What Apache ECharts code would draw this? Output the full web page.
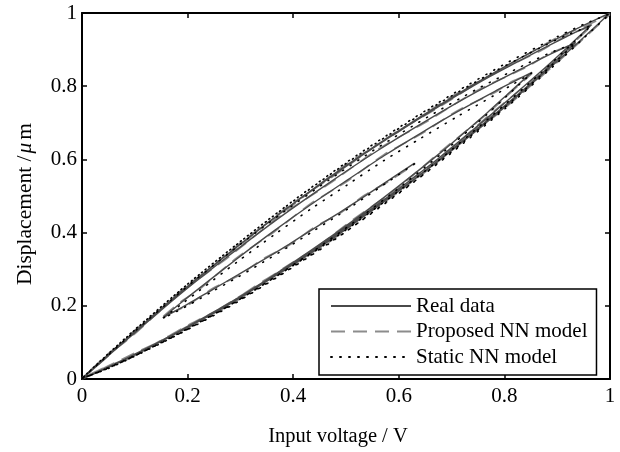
<!DOCTYPE html>
<html>
<head>
<meta charset="utf-8">
<script src="https://cdn.jsdelivr.net/npm/echarts@6/dist/echarts.min.js"></script>
<style>
  html, body { margin: 0; padding: 0; background: #fff; }
  #main { width: 620px; height: 452px; }
</style>
</head>
<body>
<div id="main"></div>
<script>
// ticks
var xTicks = [0, 0.2, 0.4, 0.6, 0.8, 1];
var yTicks = [0, 0.2, 0.4, 0.6, 0.8, 1];
var seriesNames = ["Real data", "Proposed NN model", "Static NN model"];

// measured loops (input voltage, displacement)
var realData = [
  // outer loop, up then down
  [0,0],[0.05,0.033],[0.1,0.068],[0.2,0.142],[0.3,0.224],[0.4,0.314],[0.5,0.41],[0.6,0.514],[0.7,0.624],[0.8,0.742],[0.9,0.868],[0.95,0.933],[1,1],
  [0.95,0.966],[0.9,0.930],[0.8,0.853],[0.7,0.769],[0.6,0.679],[0.5,0.583],[0.4,0.479],[0.3,0.369],[0.2,0.253],[0.1,0.130],[0.05,0.066],[0,0],
  // second loop
  [0.048,0.032],[0.097,0.065],[0.193,0.138],[0.290,0.217],[0.386,0.304],[0.483,0.397],[0.579,0.497],[0.676,0.604],[0.772,0.719],[0.869,0.840],[0.917,0.903],[0.965,0.968],
  [0.917,0.935],[0.869,0.900],[0.772,0.826],[0.676,0.745],[0.579,0.657],[0.483,0.564],[0.386,0.464],[0.290,0.357],[0.193,0.245],[0.097,0.126],[0.048,0.064],[0,0],
  // third loop
  [0.047,0.030],[0.094,0.062],[0.187,0.131],[0.281,0.206],[0.374,0.289],[0.468,0.377],[0.561,0.473],[0.655,0.574],[0.748,0.683],[0.842,0.798],[0.888,0.858],[0.935,0.920],
  [0.888,0.888],[0.842,0.855],[0.748,0.785],[0.655,0.708],[0.561,0.625],[0.468,0.536],[0.374,0.441],[0.281,0.340],[0.187,0.233],[0.094,0.119],[0.047,0.060],[0,0],
  // fourth loop, ends at 0.153
  [0.043,0.028],[0.085,0.057],[0.170,0.119],[0.256,0.188],[0.341,0.263],[0.426,0.344],[0.511,0.430],[0.596,0.523],[0.682,0.622],[0.767,0.727],[0.809,0.782],[0.852,0.838],
  [0.817,0.812],[0.782,0.786],[0.712,0.731],[0.642,0.672],[0.572,0.610],[0.503,0.544],[0.433,0.476],[0.363,0.404],[0.293,0.328],[0.223,0.249],[0.188,0.209],[0.153,0.167],
  // last rise
  [0.201,0.205],[0.248,0.245],[0.296,0.285],[0.344,0.326],[0.392,0.368],[0.439,0.411],[0.487,0.454],[0.535,0.499],[0.582,0.544],[0.630,0.590]
];

var proposedData = [
  [0,0],[0.05,0.036],[0.1,0.071],[0.2,0.139],[0.3,0.227],[0.4,0.311],[0.5,0.413],[0.6,0.511],[0.7,0.627],[0.8,0.739],[0.9,0.865],[0.95,0.930],[1,0.996],
  [0.95,0.962],[0.9,0.933],[0.8,0.850],[0.7,0.772],[0.6,0.676],[0.5,0.586],[0.4,0.476],[0.3,0.372],[0.2,0.250],[0.1,0.133],[0.05,0.063],[0,0.002],
  [0.048,0.035],[0.097,0.062],[0.193,0.141],[0.290,0.214],[0.386,0.307],[0.483,0.394],[0.579,0.500],[0.676,0.601],[0.772,0.722],[0.869,0.836],[0.917,0.900],[0.965,0.964],
  [0.917,0.938],[0.869,0.897],[0.772,0.829],[0.676,0.742],[0.579,0.660],[0.483,0.561],[0.386,0.467],[0.290,0.354],[0.193,0.248],[0.097,0.123],[0.048,0.067],[0,0.002],
  [0.047,0.033],[0.094,0.059],[0.187,0.134],[0.281,0.203],[0.374,0.292],[0.468,0.374],[0.561,0.476],[0.655,0.571],[0.748,0.686],[0.842,0.795],[0.888,0.855],[0.935,0.916],
  [0.888,0.891],[0.842,0.852],[0.748,0.788],[0.655,0.705],[0.561,0.628],[0.468,0.533],[0.374,0.444],[0.281,0.337],[0.187,0.236],[0.094,0.116],[0.047,0.063],[0,0.002],
  [0.043,0.031],[0.085,0.054],[0.170,0.122],[0.256,0.185],[0.341,0.266],[0.426,0.341],[0.511,0.433],[0.596,0.520],[0.682,0.625],[0.767,0.724],[0.809,0.779],[0.852,0.834],
  [0.817,0.815],[0.782,0.783],[0.712,0.734],[0.642,0.669],[0.572,0.613],[0.503,0.541],[0.433,0.479],[0.363,0.401],[0.293,0.331],[0.223,0.246],[0.188,0.212],[0.153,0.170],
  [0.201,0.202],[0.248,0.248],[0.296,0.282],[0.344,0.329],[0.392,0.365],[0.439,0.414],[0.487,0.451],[0.535,0.502],[0.582,0.541],[0.630,0.587]
];

var staticData = [
  [0,0],[0.05,0.031],[0.1,0.064],[0.2,0.136],[0.3,0.217],[0.4,0.307],[0.5,0.403],[0.6,0.507],[0.7,0.618],[0.8,0.737],[0.9,0.864],[0.95,0.931],[1,0.998],
  [0.95,0.969],[0.9,0.935],[0.8,0.860],[0.7,0.777],[0.6,0.687],[0.5,0.591],[0.4,0.487],[0.3,0.376],[0.2,0.259],[0.1,0.135],[0.05,0.069],[0,0.002],
  [0.048,0.029],[0.097,0.061],[0.193,0.132],[0.290,0.210],[0.386,0.297],[0.483,0.390],[0.579,0.491],[0.676,0.598],[0.772,0.714],[0.869,0.836],[0.917,0.901],[0.965,0.966],
  [0.917,0.939],[0.869,0.906],[0.772,0.833],[0.676,0.753],[0.579,0.665],[0.483,0.572],[0.386,0.471],[0.290,0.364],[0.193,0.251],[0.097,0.130],[0.048,0.067],[0,0.002],
  [0.047,0.027],[0.094,0.058],[0.187,0.125],[0.281,0.199],[0.374,0.282],[0.468,0.370],[0.561,0.467],[0.655,0.568],[0.748,0.678],[0.842,0.794],[0.888,0.855],[0.935,0.918],
  [0.888,0.892],[0.842,0.861],[0.748,0.792],[0.655,0.716],[0.561,0.633],[0.468,0.544],[0.374,0.448],[0.281,0.347],[0.187,0.238],[0.094,0.123],[0.047,0.062],[0,0.002],
  [0.043,0.025],[0.085,0.053],[0.170,0.113],[0.256,0.181],[0.341,0.256],[0.426,0.337],[0.511,0.424],[0.596,0.517],[0.682,0.617],[0.767,0.723],[0.809,0.779],[0.852,0.836],
  [0.817,0.806],[0.782,0.776],[0.712,0.718],[0.642,0.658],[0.572,0.597],[0.503,0.531],[0.433,0.464],[0.363,0.393],[0.293,0.319],[0.223,0.242],[0.188,0.204],[0.153,0.165],
  [0.201,0.201],[0.248,0.240],[0.296,0.279],[0.344,0.320],[0.392,0.362],[0.439,0.405],[0.487,0.449],[0.535,0.495],[0.582,0.541],[0.630,0.588]
];

var font = "'Liberation Serif', 'Times New Roman', serif";

function makeAxis(pos, isX, showLabel) {
  var ticks = isX ? xTicks : yTicks;
  return {
    type: "value",
    position: pos,
    min: ticks[0],
    max: ticks[ticks.length - 1],
    interval: ticks[1] - ticks[0],
    axisLine: { show: true, onZero: false, lineStyle: { color: "#000", width: 2 } },
    axisTick: { show: true, inside: true, length: 5, lineStyle: { color: "#000", width: 1.5 } },
    axisLabel: {
      show: showLabel,
      color: "#000",
      fontFamily: font,
      fontSize: 21,
      margin: isX ? 7 : 5
    },
    splitLine: { show: false }
  };
}

var chart = echarts.init(document.getElementById("main"));

var xMain = makeAxis("bottom", true, true);
xMain.name = "Input voltage / V";
xMain.nameLocation = "middle";
xMain.nameGap = 47;
xMain.nameTextStyle = { color: "#000", fontFamily: font, fontSize: 20.5, padding: [0, 16, 0, 0] };

var yMain = makeAxis("left", false, true);
yMain.name = "{a|Displacement /}{b|μ}{a|m}";
yMain.nameLocation = "middle";
yMain.nameRotate = 90;
yMain.nameGap = 46;
yMain.nameTextStyle = {
  padding: [0, 16, 0, 0],
  rich: {
    a: { color: "#000", fontFamily: font, fontSize: 21.5 },
    b: { color: "#000", fontFamily: font, fontSize: 21.5, fontStyle: "italic", padding: [0, 3, 0, 2] }
  }
};

var option = {
  animation: false,
  backgroundColor: "#fff",
  grid: { left: 82, right: 10, top: 13, bottom: 67 },
  xAxis: [xMain, makeAxis("top", true, false)],
  yAxis: [yMain, makeAxis("right", false, false)],
  legend: {
    orient: "vertical",
    left: 319,
    top: 289,
    data: seriesNames,
    itemWidth: 80,
    itemHeight: 14,
    itemGap: 4.5,
    padding: [6.5, 9, 7.5, 11],
    borderColor: "#000",
    borderWidth: 1.5,
    backgroundColor: "#fff",
    itemStyle: { opacity: 0 },
    textStyle: { color: "#000", fontFamily: font, fontSize: 21 }
  },
  series: [
    {
      name: seriesNames[1],
      type: "line",
      data: proposedData,
      symbol: "none",
      smooth: 0.25,
      lineStyle: { color: "#8c8c8c", width: 1.6, type: [14, 8] },
      z: 2
    },
    {
      name: seriesNames[0],
      type: "line",
      data: realData,
      symbol: "none",
      smooth: 0.25,
      lineStyle: { color: "#4a4a4a", width: 1.4 },
      z: 3
    },
    {
      name: seriesNames[2],
      type: "line",
      data: staticData,
      symbol: "none",
      smooth: 0.25,
      lineStyle: { color: "#000", width: 1.6, type: [1, 8], cap: "round" },
      z: 4
    }
  ]
};

chart.setOption(option);
</script>
</body>
</html>
